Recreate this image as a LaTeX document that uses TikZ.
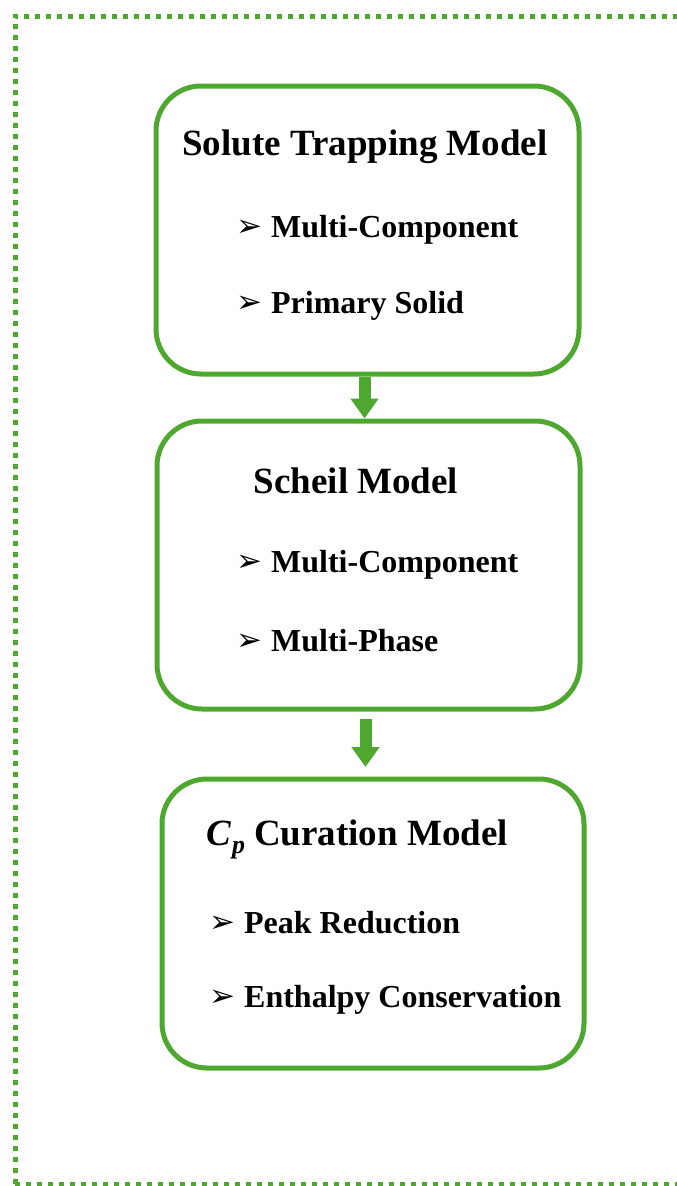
\documentclass[tikz,border=0pt]{standalone}
\usepackage{fontspec}
\setmainfont{Liberation Serif}
\newfontfamily\symfont{DejaVu Sans}
\usetikzlibrary{arrows.meta}
\definecolor{grn}{RGB}{78,167,46}
\newcommand{\bul}{{\symfont\fontsize{31}{31}\selectfont\raisebox{1pt}{➢}}\hspace{9pt}}
\begin{document}
\begin{tikzpicture}[x=1pt,y=-1pt,
  box/.style={draw=grn, line width=5pt, rounded corners=45pt, minimum width=423pt, minimum height=288pt, inner sep=0pt},
  head/.style={font=\fontsize{37}{44}\selectfont\bfseries, inner sep=0pt},
  item/.style={font=\fontsize{32}{38}\selectfont\bfseries, anchor=west, inner sep=0pt},
  flow/.style={draw=grn, fill=grn, line width=12pt, -{Triangle[width=27pt,length=20pt]}}]
\useasboundingbox (0,0) rectangle (677,1186);
\begin{scope}
\clip (0,0) rectangle (677,1186);
\draw[grn, line width=5pt, dash pattern=on 5pt off 6pt] (15,1184) -- (15,16) -- (700,16);
\draw[grn, line width=5pt, dash pattern=on 5pt off 6pt] (15,1184) -- (700,1184);
\end{scope}
\node[box] (b1) at (367.5,230) {};
\node[box] (b2) at (368.5,565) {};
\node[box, minimum width=422pt, minimum height=289pt] (b3) at (373,923.5) {};
\node[head] (h1) at (365,147) {Solute Trapping Model};
\node[item] (i11) at (236,230) {\bul Multi-Component};
\node[item] (i12) at (236,306) {\bul Primary Solid};
\node[head] (h2) at (356,481) {Scheil Model};
\node[item] (i21) at (236,565) {\bul Multi-Component};
\node[item] (i22) at (236,641) {\bul Multi-Phase};
\node[head] (h3) at (357,839) {\textit{C}\kern1pt\raisebox{-8pt}{\fontsize{26}{26}\selectfont\textit{p}}\kern9pt Curation Model};
\node[item] (i31) at (209,923) {\bul Peak Reduction};
\node[item] (i32) at (209,1000) {\bul Enthalpy Conservation};
\draw[flow] ([xshift=-3pt]b1.south) -- ([xshift=-3pt]b1.south |- b2.north);
\draw[flow, shorten <=7.5pt, shorten >=9.5pt] ([xshift=-3pt]b2.south) -- ([xshift=-3pt]b2.south |- b3.north);
\end{tikzpicture}
\end{document}
